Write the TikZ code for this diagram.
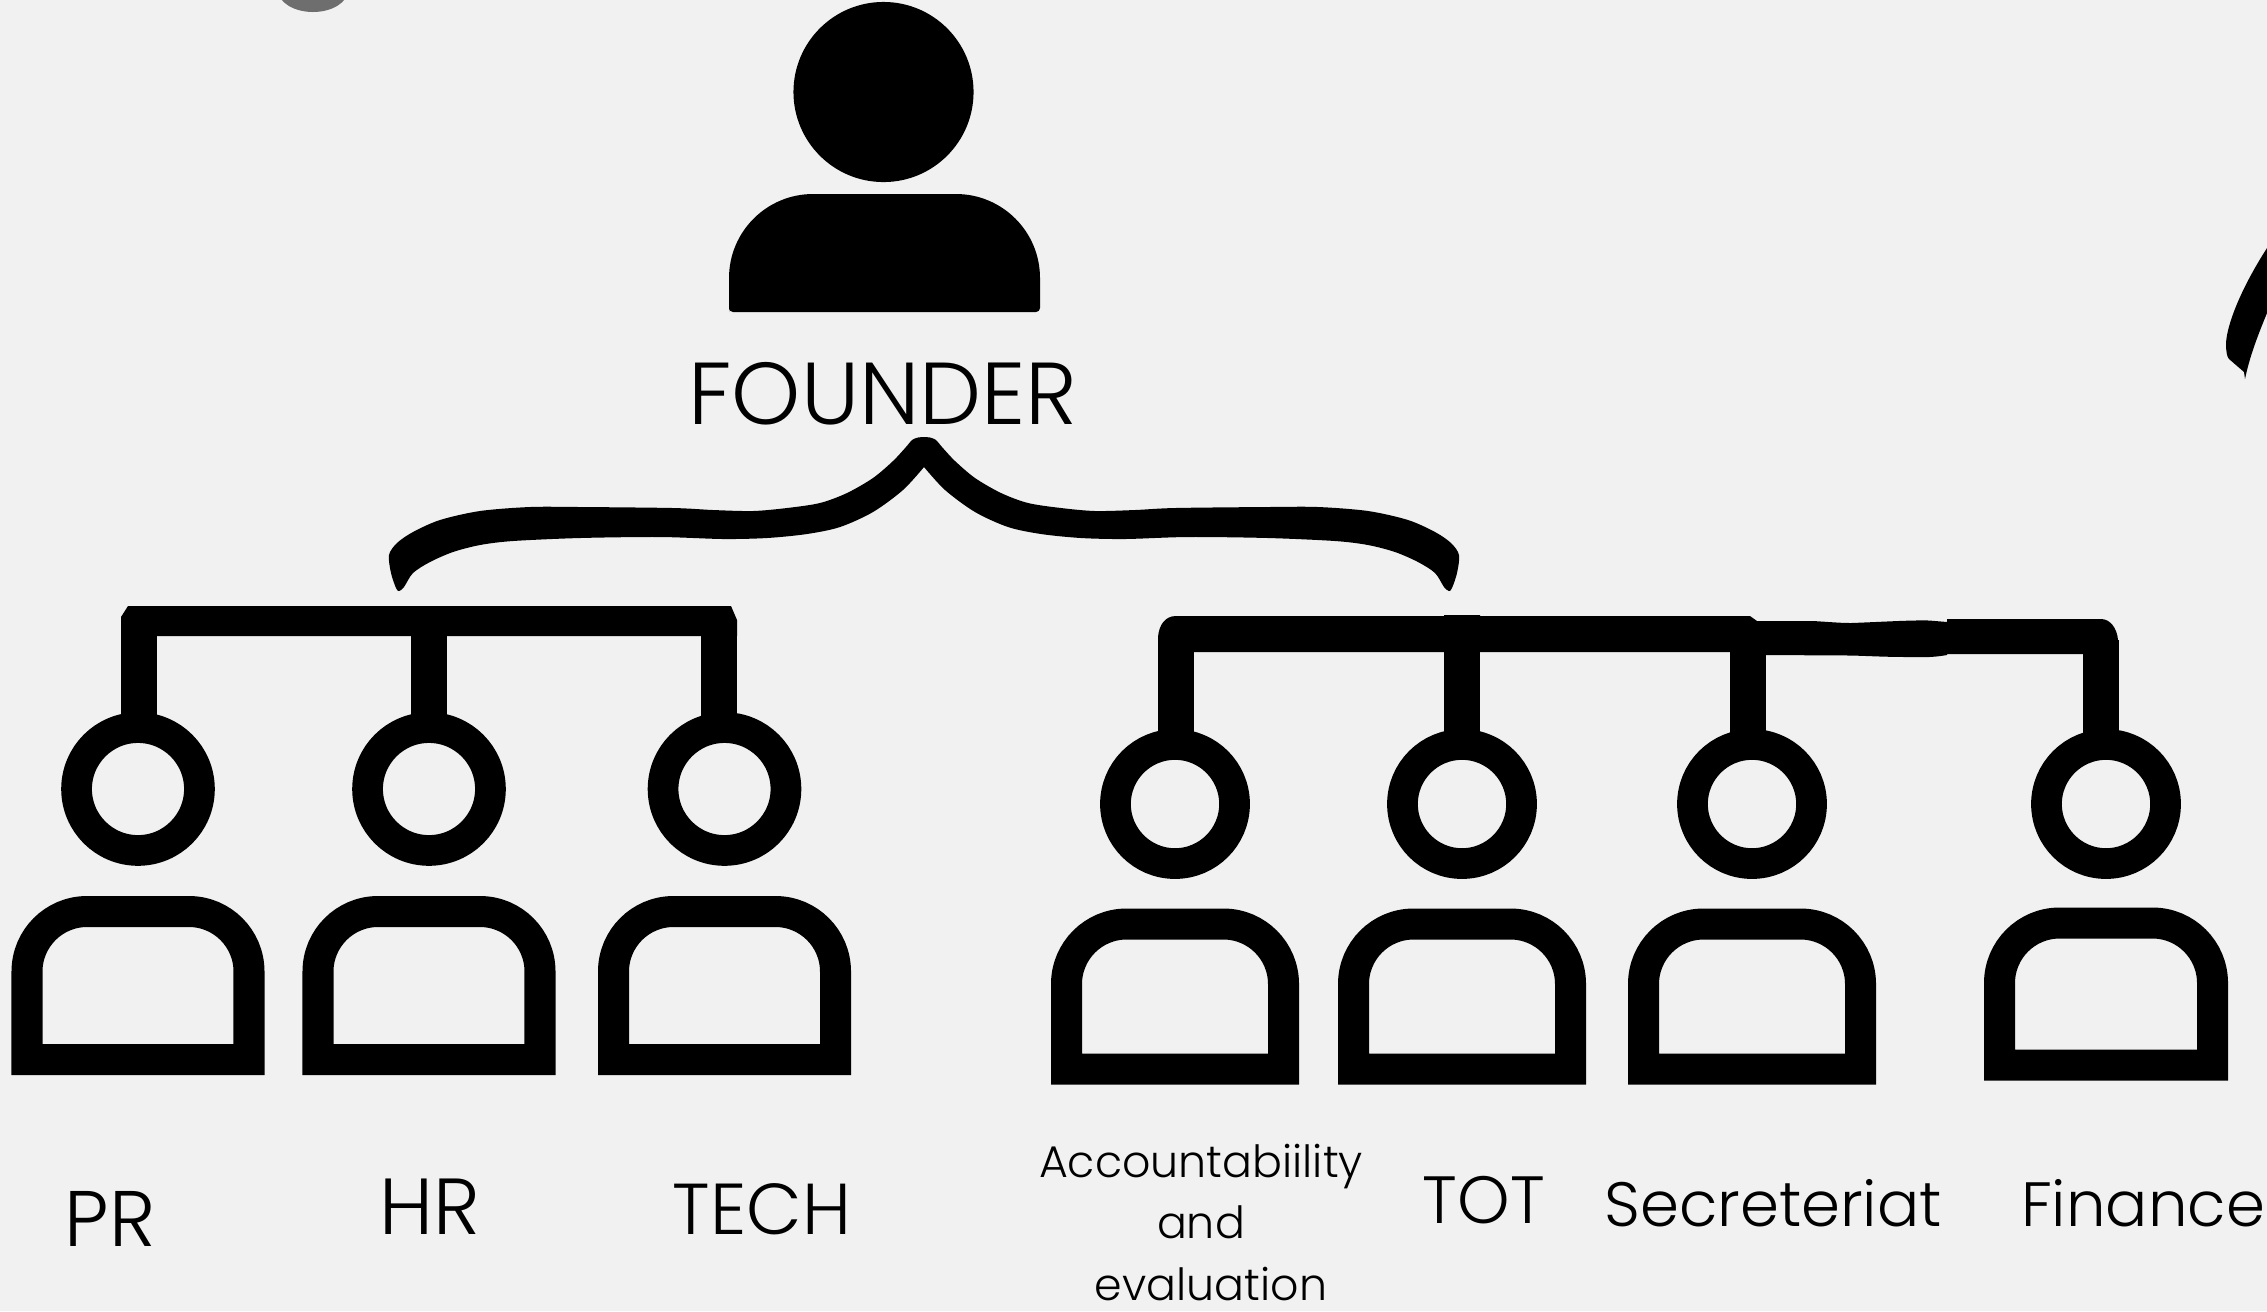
\documentclass[tikz,border=0pt]{standalone}
\usepackage{fontspec}
\newfontfamily\labelfont{Poppins Light}
\definecolor{paper}{HTML}{F1F1F1}
\definecolor{blob}{HTML}{6E6E6E}
\tikzset{
	ring/.style={draw, circle, line width=3.07mm, minimum size=#1, inner sep=0pt, outer sep=0pt},
	bodyline/.style={line width=3.1mm, rounded corners=6mm, miter limit=10},
	stemline/.style={line width=3.6mm},
	lbl/.style={font=\labelfont\fontsize{#1}{#1}\selectfont, inner sep=0pt, outer sep=0pt},
}
\begin{document}
\begin{tikzpicture}[x=0.01cm, y=-0.01cm]
	\fill [paper] (0,0) rectangle (2267,1311);
	\useasboundingbox (0,0) rectangle (2267,1311);
	\clip (0,0) rectangle (2267,1311);
	% bits of other shapes at the edges
	\fill [blob] (313,-10) ellipse (35 and 22);
	\fill (2267,248) .. controls (2240,290) and (2227,325) .. (2226,343) .. controls (2226,352) and (2227,357) .. (2229,359) -- (2244,372) -- (2245,379) .. controls (2250,355) and (2258,335) .. (2267,313) -- cycle;
	% founder
	\node [circle, fill, minimum size=18mm, inner sep=0pt] (founder) at (883.5,92) {};
	\fill (729,308) [rounded corners=8.4mm] -- (729,194) -- (1040,194) [sharp corners] -- (1040,308) [rounded corners=0.4mm] -- (1040,312) -- (729,312) -- cycle;
	\node [lbl=25] (founderlabel) at (883,394) {FOUNDER};
	% brace
	\foreach \side in {1,-1}
		\fill [shift={(924,0)}, xscale=\side] plot [smooth, tension=0.5] coordinates {(0,437) (-6,437.5) (-12,440) (-18,447) (-31,461) (-51,478) (-77,493) (-104,503) (-137,508) (-171,511) (-211,510) (-251,508) (-344,507) (-394,507) (-444,511) (-484,520) (-511,532) (-527,543) (-535,555) (-533,573) (-528,588) (-525,591) (-520,587) (-511,573) (-494,562) (-471,552) (-444,545) (-411,541) (-344,538) (-264,537) (-201,539) (-157,538) (-117,534) (-84,527) (-51,512) (-21,490) (0,467)} -- cycle;
	% people
	\foreach \name/\hx/\hy/\rsize/\bw/\btop/\bbot in {pr/138/789/12.28mm/111/122.5/270.5, hr/429/789/12.28mm/111/122.5/270.5, tech/724.5/789/12.28mm/111/122.5/270.5, acct/1175/804/11.9mm/108.5/120/265, tot/1462/804/11.9mm/108.5/120/265, sec/1752/804/11.9mm/108.5/120/265, fin/2106/804/11.9mm/106.5/119/261} {
		\node [ring=\rsize] (\name) at (\hx,\hy) {};
		\draw [bodyline, shift={(\hx,\hy)}] (-\bw,\bbot) -- (-\bw,\btop) -- (\bw,\btop) [sharp corners] -- (\bw,\bbot) -- cycle;
	}
	% left bar
	\fill (121,617) -- (128,606) -- (731,606) -- (737,620) -- (737,636) -- (121,636) -- cycle;
	\coordinate (prbus) at (139,630);
	\coordinate (hrbus) at (429,630);
	\coordinate (techbus) at (719,630);
	\foreach \name in {pr,hr,tech}
		\draw [stemline] (\name bus) -- (\name bus |- \name.north);
	% right bar
	\fill (1158,652) -- (1158,637) .. controls (1159,625) and (1165,616) .. (1176,616) -- (1444,616) -- (1444,615) -- (1480,615) -- (1480,616) -- (1750,616) -- (1757,621) -- (1813,621) .. controls (1830,622) and (1840,623) .. (1851,623) .. controls (1880,622) and (1910,620) .. (1929,620.5) -- (1947,622) -- (1947,619) -- (2101,619) .. controls (2110,619) and (2117,628) .. (2118,640) -- (2118,654) -- (1947,654) -- (1947,655) .. controls (1930,658) and (1920,657) .. (1909,657) .. controls (1885,657) and (1870,656) .. (1851,655.5) -- (1765,655) -- (1765,652) -- cycle;
	\coordinate (acctbus) at (1175.5,640);
	\coordinate (totbus) at (1462,640);
	\coordinate (secbus) at (1747.5,640);
	\coordinate (finbus) at (2101,640);
	\foreach \name in {acct,tot,sec,fin}
		\draw [stemline] (\name bus) -- (\name bus |- \name.north);
	% labels
	\node [lbl=22.4] (prlabel) at (110,1219) {PR};
	\node [lbl=22.6] (hrlabel) at (430,1207) {HR};
	\node [lbl=20.5] (techlabel) at (762,1209) {TECH};
	\node [lbl=12.6, font=\labelfont\fontsize{12.6}{17.5}\selectfont, align=center] (acctlabel) at (1201,1222.5) {Accountabiility\\and\\\hspace{2mm}evaluation};
	\node [lbl=19] (totlabel) at (1484,1200) {TOT};
	\node [lbl=17.8] (seclabel) at (1773,1203) {Secreteriat};
	\node [lbl=17.8] (finlabel) at (2143,1203) {Finance};
\end{tikzpicture}
\end{document}
